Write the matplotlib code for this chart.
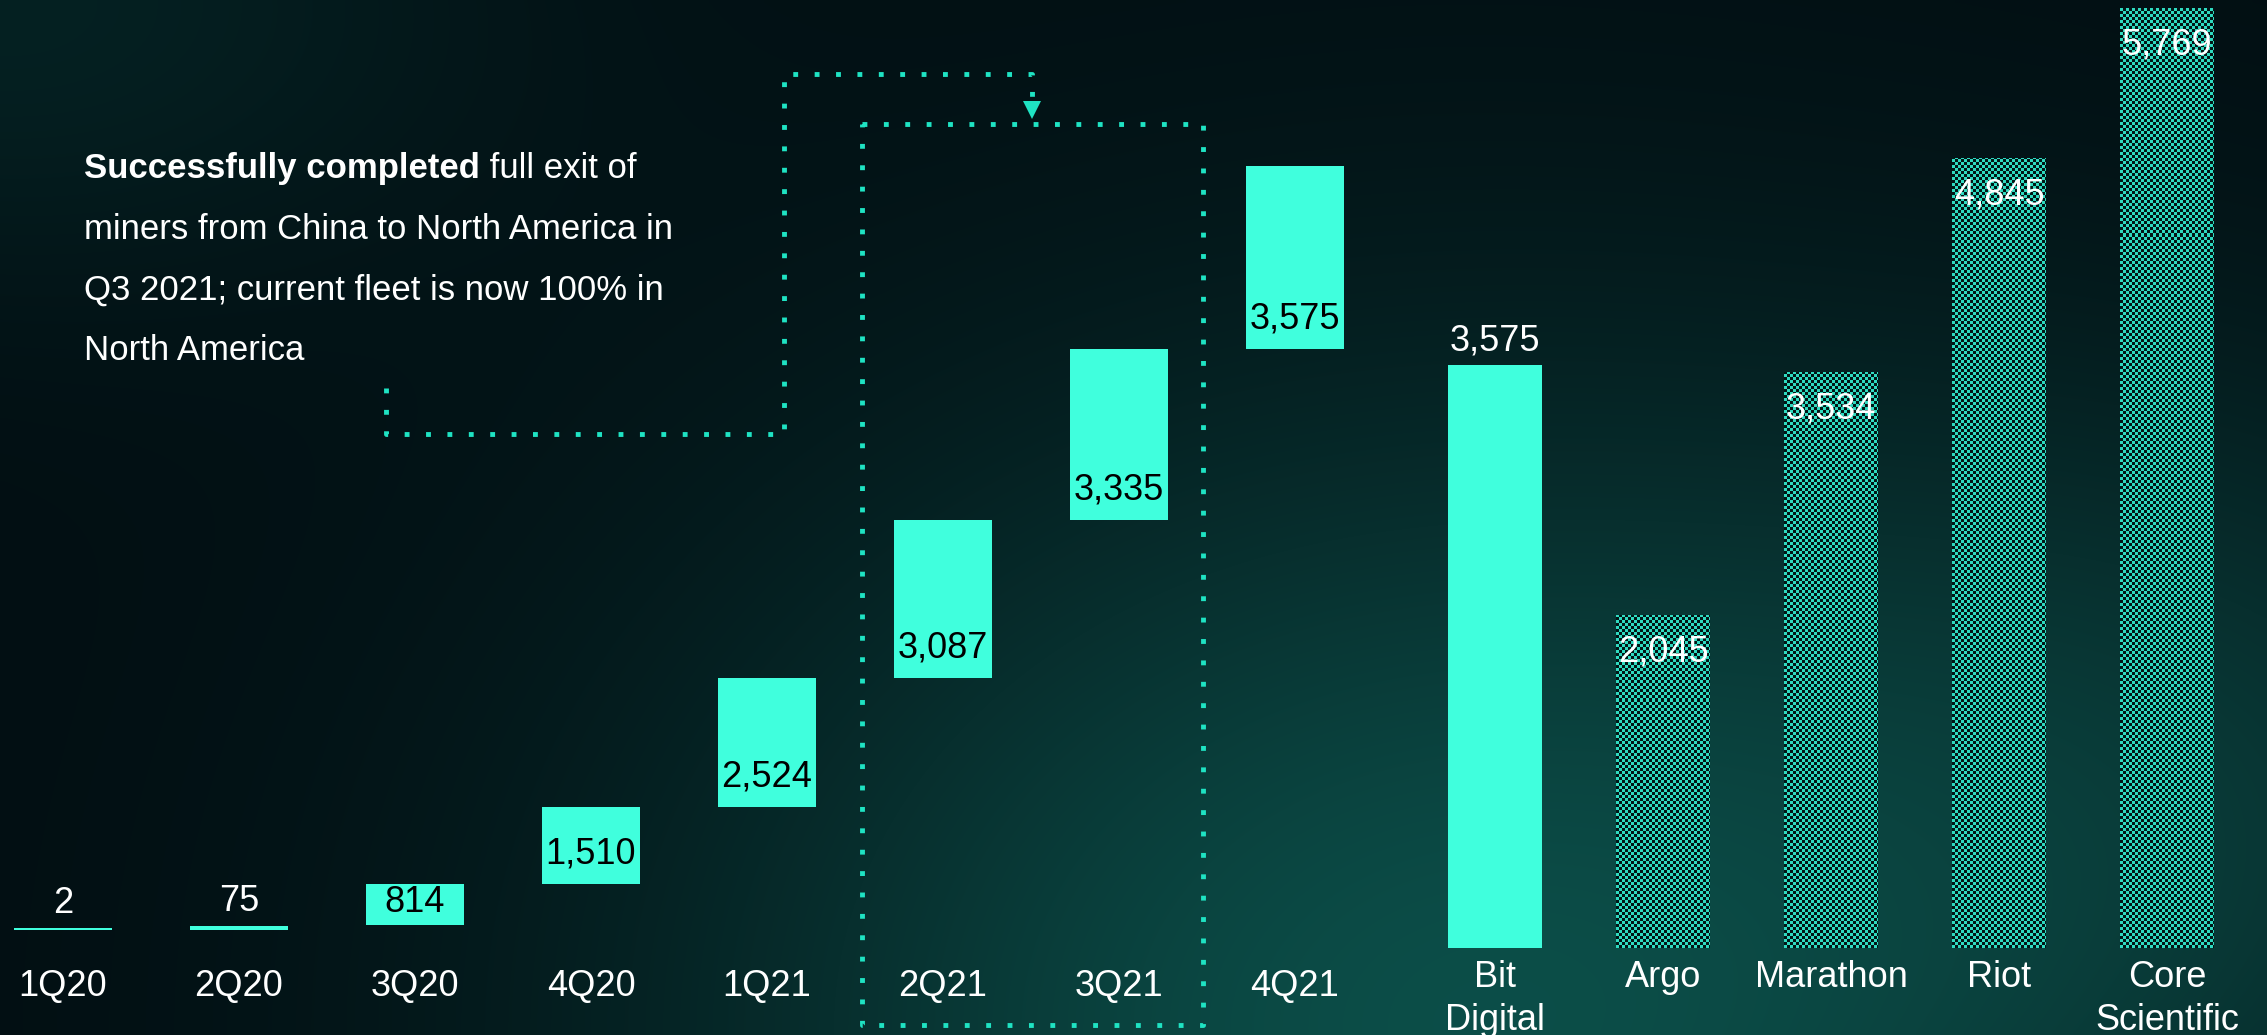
"""Hash rate build-up staircase (1Q20-4Q21) next to peer comparison bars."""
import numpy as np
import matplotlib
matplotlib.use("Agg")
import matplotlib.pyplot as plt

# ---- data -------------------------------------------------------------
quarters = ["1Q20", "2Q20", "3Q20", "4Q20", "1Q21", "2Q21", "3Q21", "4Q21"]
quarter_values = [2, 75, 814, 1510, 2524, 3087, 3335, 3575]
# the staircase is not drawn to scale in the source, so the floating
# extents are read off the picture (percent of the panel height)
step_lo = [0.0, 0.0, 0.54, 4.99, 13.23, 27.13, 44.09, 62.51]
step_hi = [0.25, 0.46, 4.99, 13.23, 27.13, 44.09, 62.51, 82.15]

peers = ["Bit\nDigital", "Argo", "Marathon", "Riot", "Core\nScientific"]
peer_values = [3575, 2045, 3534, 4845, 5769]
peer_is_self = [True, False, False, False, False]

note_bold = "Successfully completed"
note_lines = [" full exit of",
              "miners from China to North America in",
              "Q3 2021; current fleet is now 100% in",
              "North America"]

# ---- style ------------------------------------------------------------
W, H = 2267, 1035
AQUA = "#40FFDD"
DOT = "#1FE3C3"
plt.rcParams["font.family"] = ["Liberation Sans", "DejaVu Sans"]

fig = plt.figure(figsize=(W / 100, H / 100), dpi=100)

# background gradient
bg = fig.add_axes([0, 0, 1, 1], zorder=-10)
gx, gy = np.meshgrid(np.linspace(0, 1, 460), np.linspace(0, 1, 210))
t = (0.95 * np.exp(-((gx - 0.64) / 0.34) ** 2 - ((gy - 1.0) / 0.6) ** 2)
     + 0.28 * np.exp(-((gx - 0.0) / 0.22) ** 2 - ((gy - 0.0) / 0.28) ** 2)
     + 0.35 * np.exp(-((gx - 1.0) / 0.22) ** 2 - ((gy - 0.75) / 0.4) ** 2))
t = np.clip(t, 0, 1)[..., None]
dark = np.array([2, 14, 18]) / 255
teal = np.array([12, 80, 74]) / 255
bg.imshow(dark + t * (teal - dark), extent=[0, 1, 0, 1], aspect="auto",
          interpolation="bilinear")
bg.set_axis_off()

# ---- left: staircase ----------------------------------------------------
axl = fig.add_axes([0, 105 / H, 1400 / W, 930 / H])
axl.set_xlim(-63 / 176, (1400 - 63) / 176)
axl.set_ylim(0, 100)
axl.set_axis_off()
px_per_unit = 9.3
xq = np.arange(len(quarters))
heights = np.array(step_hi) - np.array(step_lo)
axl.bar(xq, heights, bottom=step_lo, width=0.557, color=AQUA, linewidth=0)

for i, (v, lo, hi) in enumerate(zip(quarter_values, step_lo, step_hi)):
    h_px = (hi - lo) * px_per_unit
    if h_px < 30:
        axl.annotate(f"{v:,}", (i, hi), xytext=(0, 10.8), textcoords="offset points",
                     ha="center", va="baseline", fontsize=26, color="white")
    else:
        off = min(20, 0.32 * h_px) * 0.72
        axl.annotate(f"{v:,}", (i, lo), xytext=(0, off), textcoords="offset points",
                     ha="center", va="baseline", fontsize=26, color="black")
    axl.text(i, -4.2, quarters[i], ha="center", va="top", fontsize=26,
             color="white", clip_on=False)

# dotted bracket around 2Q21-3Q21 and the connector from the note
dots = dict(color=DOT, lw=3.5, ls=(0, (1, 3.4)), dash_capstyle="butt",
            clip_on=False)
bx0, bx1 = 5 - 0.46, 6 + 0.476
by0, by1 = -10.2, 86.7
axl.plot([bx0, bx1, bx1, bx0, bx0], [by1, by1, by0, by0, by1], **dots)
cx = (bx0 + bx1) / 2
axl.plot([1.833, 1.833, 4.097, 4.097, cx, cx],
         [58.3, 53.3, 53.3, 92.0, 92.0, 89.2], **dots)
axl.plot([cx], [88.2], marker="v", ms=13, color=DOT, mew=0, clip_on=False)

# note text
renderer = fig.canvas.get_renderer()
tb = fig.text(84 / W, 1 - 178 / H, note_bold, fontsize=25, fontweight="bold",
              color="white", va="baseline")
x_end = tb.get_window_extent(renderer).x1
fig.text(x_end / W, 1 - 178 / H, note_lines[0], fontsize=25, color="white",
         va="baseline")
for k, line in enumerate(note_lines[1:], start=1):
    fig.text(84 / W, 1 - (178 + 60.7 * k) / H, line, fontsize=25,
             color="white", va="baseline")

# ---- right: peer comparison -------------------------------------------
axr = fig.add_axes([1400 / W, 87 / H, 867 / W, 948 / H])
xlim_r = ((1400 - 1495) / 168, (2267 - 1495) / 168)
ylim_r = (0, 948 / 0.163)
axr.set_xlim(*xlim_r)
axr.set_ylim(*ylim_r)
axr.set_axis_off()

# 3-px checkerboard texture used to fill the peer bars
cells = (np.add.outer(np.arange(948 // 3), np.arange(867 // 3)) % 2).astype(float)
checker = np.where(cells[..., None] > 0,
                   np.array([47, 218, 192]) / 255,
                   np.array([2, 22, 22]) / 255)

for i, (v, own) in enumerate(zip(peer_values, peer_is_self)):
    if own:
        axr.bar(i, v, width=0.555, color=AQUA, linewidth=0)
        axr.annotate(f"{v:,}", (i, v), xytext=(0, 10.8), textcoords="offset points",
                     ha="center", va="baseline", fontsize=26, color="white")
    else:
        patch = axr.bar(i, v, width=0.555, color="none", linewidth=0)[0]
        im = axr.imshow(checker, extent=(*xlim_r, *ylim_r), aspect="auto",
                        interpolation="nearest", zorder=1)
        im.set_clip_path(patch)
        axr.annotate(f"{v:,}", (i, v), xytext=(0, -33.5), textcoords="offset points",
                     ha="center", va="baseline", fontsize=26, color="white",
                     zorder=3)
    for k, part in enumerate(peers[i].split("\n")):
        axr.annotate(part, (i, 0), xytext=(0, -8.3 - 31 * k),
                     textcoords="offset points", ha="center", va="top",
                     fontsize=26, color="white", annotation_clip=False)

axr.set_xlim(*xlim_r)
axr.set_ylim(*ylim_r)
fig.savefig("out.png", dpi=100)
